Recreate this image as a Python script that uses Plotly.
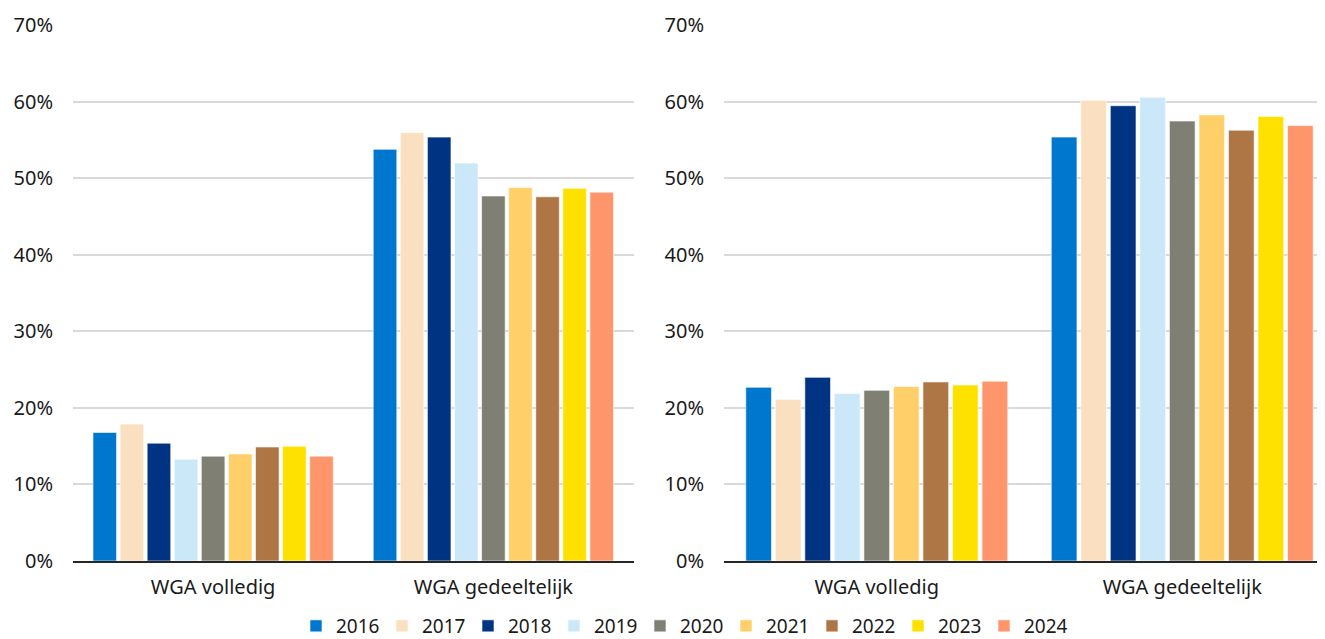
import plotly.graph_objects as go

categories = ["WGA volledig", "WGA gedeeltelijk"]
years = ["2016", "2017", "2018", "2019", "2020", "2021", "2022", "2023", "2024"]
colors = ["#0077CF", "#FAE0C0", "#003382", "#CBE8F8", "#7F7F73",
          "#FFD06A", "#AE7645", "#FFE100", "#FF956A"]

# left panel: [WGA volledig, WGA gedeeltelijk] per year
left_vals = {
    "2016": [0.168, 0.538],
    "2017": [0.179, 0.560],
    "2018": [0.154, 0.554],
    "2019": [0.133, 0.520],
    "2020": [0.137, 0.477],
    "2021": [0.140, 0.488],
    "2022": [0.149, 0.476],
    "2023": [0.150, 0.487],
    "2024": [0.137, 0.482],
}
# right panel
right_vals = {
    "2016": [0.227, 0.554],
    "2017": [0.211, 0.602],
    "2018": [0.240, 0.595],
    "2019": [0.219, 0.606],
    "2020": [0.223, 0.575],
    "2021": [0.228, 0.583],
    "2022": [0.234, 0.563],
    "2023": [0.230, 0.581],
    "2024": [0.235, 0.569],
}
y_ticks = [0, 0.1, 0.2, 0.3, 0.4, 0.5, 0.6, 0.7]

OFF = 8  # page body margin in the html output
W, H = 1325 - OFF, 639 - OFF
TOP, BOTTOM = 25 - OFF, 561 - OFF
fig = go.Figure()
for i, yr in enumerate(years):
    fig.add_trace(go.Bar(x=categories, y=left_vals[yr], name=yr,
                         marker=dict(color=colors[i], line=dict(color="white", width=0.6)),
                         xaxis="x", yaxis="y", legendgroup=yr, showlegend=True))
    fig.add_trace(go.Bar(x=categories, y=right_vals[yr], name=yr,
                         marker=dict(color=colors[i], line=dict(color="white", width=0.6)),
                         xaxis="x2", yaxis="y2", legendgroup=yr, showlegend=False))

font_fam = "Noto Sans"
txt_col = "#1a1a1a"
ytick_font = dict(family=font_fam, size=20, color=txt_col)
xtick_font = dict(family=font_fam, size=20, color=txt_col)

yax = dict(range=[0, 0.7005], tickvals=y_ticks, tickformat=".0%", showgrid=True,
           gridcolor="#D9D9D9", gridwidth=1.5, zeroline=False, showline=False,
           ticks="", ticklabelstandoff=19, tickfont=ytick_font, automargin=False)
xax = dict(type="category", showline=True, linecolor="#262626", linewidth=1.5,
           ticks="", ticklabelstandoff=7, tickfont=xtick_font, showgrid=False,
           automargin=False)

plot_h = BOTTOM - TOP
fig.update_layout(
    width=W, height=H,
    margin=dict(l=0, r=0, t=TOP, b=H - BOTTOM, autoexpand=False),
    plot_bgcolor="white", paper_bgcolor="white",
    barmode="group", bargap=0.13, bargroupgap=0.13,
    font=dict(family=font_fam, size=19, color=txt_col),
    xaxis=dict(domain=[(73 - OFF) / W, (633.5 - OFF) / W], range=[-0.5, 1.5], anchor="y", **xax),
    yaxis=dict(domain=[0, 1], anchor="x", **yax),
    xaxis2=dict(domain=[(724 - OFF) / W, 1.0], range=[-0.5, -0.5 + 601 / 305.5],
                anchor="y2", **xax),
    yaxis2=dict(domain=[0, 1], anchor="x2", **yax),
    legend=dict(orientation="h", x=(296 - OFF) / W, xanchor="left",
                y=-((626 - OFF) - BOTTOM) / plot_h, yanchor="middle",
                font=dict(family=font_fam, size=19, color=txt_col),
                itemwidth=30, entrywidth=41, tracegroupgap=0, itemclick=False),
    showlegend=True,
)

fig.write_html("out.html")
